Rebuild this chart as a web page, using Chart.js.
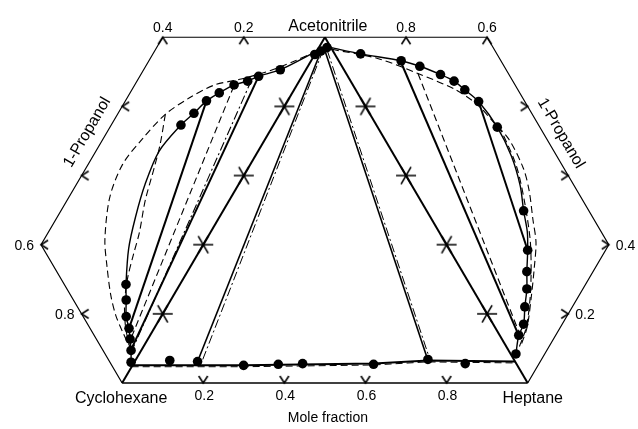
<!DOCTYPE html>
<html>
<head>
<meta charset="utf-8">
<script src="https://cdn.jsdelivr.net/npm/chart.js@4.4.1/dist/chart.umd.min.js"></script>
<style>
  html, body { margin: 0; padding: 0; background: #fff; }
</style>
</head>
<body>
<canvas id="diagram" width="638" height="429"></canvas>
<script>
// mole fractions
// left triangle  (acetonitrile, cyclohexane, 1-propanol): [xAcetonitrile, x1-Propanol]
// middle triangle (acetonitrile, cyclohexane, heptane):   [xAcetonitrile, xHeptane]
// right triangle (acetonitrile, heptane, 1-propanol):     [xAcetonitrile, x1-Propanol]

const leftDots = [
  [0.843, 0.063], [0.780, 0.107], [0.746, 0.127], [0.707, 0.155], [0.659, 0.180],
  [0.616, 0.200], [0.567, 0.213], [0.518, 0.228],
  [0.152, 0.133], [0.130, 0.110], [0.106, 0.086], [0.096, 0.062], [0.083, 0.044],
  [0.069, 0.025], [0.052, 0.008]
];
const leftBinodal = [
  [0.96, 0.0], [0.843, 0.063], [0.780, 0.107], [0.746, 0.127], [0.707, 0.155],
  [0.659, 0.180], [0.616, 0.200], [0.567, 0.213], [0.518, 0.228], [0.426, 0.244],
  [0.345, 0.231], [0.273, 0.207], [0.210, 0.178], [0.152, 0.133], [0.130, 0.110],
  [0.106, 0.086], [0.096, 0.062], [0.083, 0.044], [0.069, 0.025], [0.052, 0.008]
];
const leftOuterDashed = [
  [0.96, 0.0], [0.893, 0.039], [0.818, 0.086], [0.733, 0.146], [0.659, 0.203],
  [0.577, 0.247], [0.495, 0.282], [0.403, 0.303], [0.318, 0.315], [0.238, 0.299],
  [0.165, 0.250], [0.132, 0.207], [0.099, 0.155], [0.082, 0.113], [0.075, 0.072],
  [0.071, 0.039]
];
const leftInnerDashed = [
  [0.495, 0.282], [0.438, 0.251], [0.390, 0.232], [0.321, 0.207], [0.260, 0.175],
  [0.214, 0.158], [0.165, 0.138], [0.122, 0.110], [0.089, 0.072], [0.071, 0.034]
];
const leftTiesSolid = [
  [[0.616, 0.200], [0.096, 0.062]],
  [[0.780, 0.107], [0.078, 0.027]]
];
const leftTiesDashed = [[[0.705, 0.154], [0.077, 0.041]]];
const leftTiesDashDot = [[[0.757, 0.119], [0.080, 0.024]]];

const centerTopDots = [[0.95, 0.0], [0.96, 0.01], [0.97, 0.02]];
const centerDots = [
  [0.065, 0.085], [0.062, 0.155], [0.051, 0.274], [0.054, 0.358],
  [0.056, 0.417], [0.054, 0.593], [0.068, 0.720], [0.056, 0.818]
];
const centerBase = [[0.051, 0.0], [0.051, 0.276], [0.056, 0.593], [0.065, 0.722], [0.062, 0.938]];
const centerTiesSolid = [
  [[0.963, 0.010], [0.062, 0.155]],
  [[0.963, 0.018], [0.066, 0.721]]
];
const centerTiesDashDot = [
  [[0.963, 0.014], [0.061, 0.166]],
  [[0.963, 0.024], [0.064, 0.728]]
];

const rightDots = [
  [0.888, 0.064], [0.778, 0.154], [0.724, 0.192], [0.661, 0.231], [0.618, 0.255],
  [0.579, 0.269], [0.528, 0.286], [0.445, 0.295], [0.259, 0.239], [0.192, 0.192],
  [0.163, 0.159], [0.138, 0.134], [0.117, 0.103], [0.095, 0.075], [0.091, 0.047],
  [0.071, 0.013]
];
const rightBinodal = [
  [0.97, 0.0], [0.888, 0.064], [0.778, 0.154], [0.724, 0.192], [0.661, 0.231],
  [0.618, 0.255], [0.579, 0.269], [0.528, 0.286], [0.445, 0.295], [0.368, 0.288],
  [0.304, 0.267], [0.259, 0.239], [0.220, 0.218], [0.192, 0.192], [0.163, 0.159],
  [0.138, 0.134], [0.117, 0.103], [0.095, 0.075], [0.091, 0.047], [0.071, 0.013]
];
const rightOuterDashed = [
  [0.965, 0.0], [0.837, 0.101], [0.718, 0.177], [0.606, 0.244], [0.528, 0.278],
  [0.461, 0.293], [0.400, 0.306], [0.322, 0.300], [0.275, 0.282], [0.223, 0.249],
  [0.183, 0.224], [0.149, 0.181], [0.114, 0.131], [0.082, 0.079], [0.070, 0.034]
];
const rightInnerDashed = [
  [0.445, 0.295], [0.427, 0.299], [0.342, 0.286], [0.273, 0.256], [0.202, 0.214],
  [0.157, 0.174], [0.117, 0.129], [0.084, 0.077], [0.073, 0.032]
];
const rightTiesSolid = [
  [[0.780, 0.152], [0.099, 0.048]],
  [[0.528, 0.286], [0.192, 0.192]]
];
const rightTiesDashed = [[[0.718, 0.177], [0.090, 0.051]]];

// axis ticks
const baseTicks = [0.2, 0.4, 0.6, 0.8];
const baseTickLabels = ['0.2', '0.4', '0.6', '0.8'];
const edgeCrosses = [0.2, 0.4, 0.6, 0.8];
const flapTicks = [0.2, 0.4];
const leftTopLabels = ['0.2', '0.4'];
const rightTopLabels = ['0.8', '0.6'];
const leftLowerLabels = ['0.8', '0.6'];
const rightLowerLabels = ['0.2', '0.4'];
const sideTicks = [0.2, 0.4];
const flapCut = 0.4;

// composition -> plane (cyclohexane at 0,0, heptane at 1,0, acetonitrile at 0.5,1)
const fromCenter = ([a, h]) => ({ x: h + a / 2, y: a });
const fromLeft = ([a, p]) => ({ x: (a - p) / 2, y: a + p });
const fromRight = ([a, p]) => ({ x: 1 - a / 2 + p / 2, y: a + p });

// page placement of the plane
const PX = [119, 531], PY = [387, 33], W = 638, H = 429;
const xMin = -PX[0] / (PX[1] - PX[0]);
const xMax = xMin + W / (PX[1] - PX[0]);
const yMax = 1 + PY[1] / (PY[0] - PY[1]);
const yMin = yMax - H / (PY[0] - PY[1]);

function mark(size, draw) {
  const c = document.createElement('canvas');
  c.width = size; c.height = size;
  const g = c.getContext('2d');
  g.strokeStyle = '#000';
  g.lineWidth = 1.6;
  g.beginPath();
  draw(g, size / 2);
  g.stroke();
  return c;
}
const asterisk = mark(24, (g, m) => {
  for (const deg of [0, 60, 120]) {
    const r = deg * Math.PI / 180, dx = Math.cos(r) * 10, dy = Math.sin(r) * 10;
    g.moveTo(m - dx, m - dy); g.lineTo(m + dx, m + dy);
  }
});
const chevron = (ax, ay) => mark(18, (g, m) => {
  // apex at the centre, arms pointing along (ax, ay)
  const L = 7, s = 4.5;
  g.moveTo(m + ax * L - ay * s, m + ay * L - ax * s);
  g.lineTo(m, m);
  g.lineTo(m + ax * L + ay * s, m + ay * L + ax * s);
});
const chevDown = chevron(0, 1), chevUp = chevron(0, -1);
const chevRight = chevron(1, 0), chevLeft = chevron(-1, 0);

const datasets = [];
function addLine(pts, width, dash, tension, order) {
  datasets.push({
    data: pts, showLine: true, borderColor: '#000', borderWidth: width,
    borderDash: dash || [], tension: tension || 0, pointRadius: 0,
    fill: false, order: order === undefined ? 2 : order
  });
}
function addMarks(pts, style, radius) {
  datasets.push({
    data: pts, showLine: false, pointStyle: style, pointRadius: radius,
    pointBackgroundColor: '#000', pointBorderColor: '#000', pointBorderWidth: 0, order: 0
  });
}
const DASH = [7, 4], DASHDOT = [9, 3, 2, 3];

// frame
const frame = [[1, 0], [0.6, flapCut], [0, flapCut], [0, 0]];
addLine(frame.map(fromLeft), 1.2, null, 0, 3);
addLine(frame.map(fromRight), 1.2, null, 0, 3);
addLine([[0, 0], [0, 1]].map(fromCenter), 1.4, null, 0, 3);
addLine([[1, 0], [0, 0]].map(fromCenter), 2, null, 0, 3);
addLine([[1, 0], [0, 1]].map(fromCenter), 2, null, 0, 3);

// left triangle
addLine(leftBinodal.map(fromLeft), 1.4, null, 0.3);
addLine(leftOuterDashed.map(fromLeft), 1.1, DASH, 0.3);
addLine(leftInnerDashed.map(fromLeft), 1.1, DASH, 0.3);
leftTiesSolid.forEach(t => addLine(t.map(fromLeft), 2));
leftTiesDashed.forEach(t => addLine(t.map(fromLeft), 1.1, DASH));
leftTiesDashDot.forEach(t => addLine(t.map(fromLeft), 1.1, DASHDOT));

// middle triangle
addLine(centerBase.map(fromCenter), 2);
addLine(centerBase.map(([a, h]) => fromCenter([a - 0.004, h])), 1, DASH);
centerTiesSolid.forEach(t => addLine(t.map(fromCenter), 1.6));
centerTiesDashDot.forEach(t => addLine(t.map(fromCenter), 1, DASHDOT));

// right triangle
addLine(rightBinodal.map(fromRight), 1.4, null, 0.3);
addLine(rightOuterDashed.map(fromRight), 1.1, DASH, 0.3);
addLine(rightInnerDashed.map(fromRight), 1.1, DASH, 0.3);
rightTiesSolid.forEach(t => addLine(t.map(fromRight), 2));
rightTiesDashed.forEach(t => addLine(t.map(fromRight), 1.1, DASH));

// data points
addMarks(leftDots.map(fromLeft), 'circle', 4.8);
addMarks(rightDots.map(fromRight), 'circle', 4.8);
addMarks(centerDots.map(fromCenter), 'circle', 4.8);
addMarks(centerTopDots.map(fromCenter), 'circle', 4.8);

// ticks
addMarks(edgeCrosses.map(a => fromCenter([a, 0])).concat(edgeCrosses.map(a => fromCenter([a, 1 - a]))), asterisk, 5);
addMarks(baseTicks.map(h => fromCenter([0, h])), chevUp, 5);
addMarks(flapTicks.map(p => fromLeft([1 - p, p])).concat(flapTicks.map(p => fromRight([1 - p, p]))), chevDown, 5);
addMarks(sideTicks.map(a => fromLeft([a, flapCut])).concat(flapTicks.map(p => fromLeft([0, p]))), chevRight, 5);
addMarks(sideTicks.map(a => fromRight([a, flapCut])).concat(flapTicks.map(p => fromRight([0, p]))), chevLeft, 5);

const FONT = '"Liberation Sans", Arial, Helvetica, sans-serif';
const labels = {
  id: 'labels',
  afterDraw(chart) {
    const { ctx } = chart;
    const sx = chart.scales.x, sy = chart.scales.y;
    const at = pt => [sx.getPixelForValue(pt.x), sy.getPixelForValue(pt.y)];
    const put = (txt, pt, dx, dy, align, base, size) => {
      const [x, y] = at(pt);
      ctx.font = size + 'px ' + FONT;
      ctx.textAlign = align;
      ctx.textBaseline = base;
      ctx.fillText(txt, x + dx, y + dy);
    };
    ctx.save();
    ctx.fillStyle = '#000';
    put('Acetonitrile', fromCenter([1, 0]), 3, -6, 'center', 'alphabetic', 16);
    put('Cyclohexane', fromCenter([0, 0]), -1, 20, 'center', 'alphabetic', 16);
    put('Heptane', fromCenter([0, 1]), 5, 20, 'center', 'alphabetic', 16);
    put('Mole fraction', fromCenter([0, 0.5]), 3, 39, 'center', 'alphabetic', 14);
    baseTicks.forEach((h, i) => put(baseTickLabels[i], fromCenter([0, h]), 1, 17, 'center', 'alphabetic', 14));
    flapTicks.forEach((p, i) => {
      put(leftTopLabels[i], fromLeft([1 - p, p]), 0, -5, 'center', 'alphabetic', 14);
      put(rightTopLabels[i], fromRight([1 - p, p]), 0, -5, 'center', 'alphabetic', 14);
      put(leftLowerLabels[i], fromLeft([0, p]), -7, 1, 'right', 'middle', 14);
      put(rightLowerLabels[i], fromRight([0, p]), 7, 1, 'left', 'middle', 14);
    });
    // 1-Propanol along the cut edges of the side triangles
    const side = (lo, hi, out) => {
      const [x0, y0] = at(lo), [x1, y1] = at(hi);
      const ang = Math.atan2(y1 - y0, x1 - x0);
      ctx.save();
      ctx.translate((x0 + x1) / 2, (y0 + y1) / 2);
      ctx.rotate(ang);
      ctx.font = '16px ' + FONT;
      ctx.textAlign = 'center';
      ctx.textBaseline = 'middle';
      ctx.fillText('1-Propanol', 0, -out);
      ctx.restore();
    };
    side(fromLeft([0, flapCut]), fromLeft([0.6, flapCut]), 17);
    side(fromRight([0.6, flapCut]), fromRight([0, flapCut]), 15);
    ctx.restore();
  }
};

new Chart(document.getElementById('diagram').getContext('2d'), {
  type: 'scatter',
  data: { datasets },
  options: {
    responsive: false,
    animation: false,
    devicePixelRatio: 1,
    events: [],
    layout: { padding: 0 },
    plugins: { legend: { display: false }, tooltip: { enabled: false } },
    scales: {
      x: { type: 'linear', min: xMin, max: xMax, display: false },
      y: { type: 'linear', min: yMin, max: yMax, display: false }
    }
  },
  plugins: [labels]
});
</script>
</body>
</html>
